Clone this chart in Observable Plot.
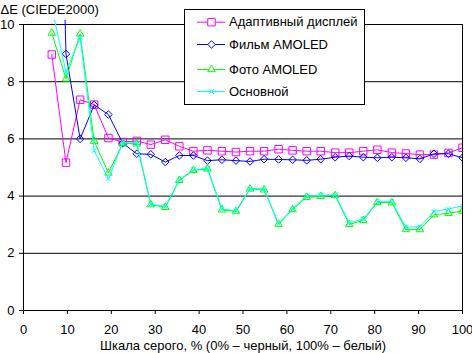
<!DOCTYPE html>
<html><head><meta charset="utf-8">
<script src="https://cdn.jsdelivr.net/npm/d3@7"></script>
<script src="https://cdn.jsdelivr.net/npm/@observablehq/plot@0.6"></script>
<style>
body{margin:0;background:#fff;}
#wrap{position:relative;width:472px;height:353px;font-family:"Liberation Sans",Arial,sans-serif;}
#legend{position:absolute;left:184px;top:9px;}
</style></head><body><div id="wrap"></div>
<script>
const gray = [6.45,9.68,12.9,16.1,19.35,22.6,25.8,29.0,32.3,35.5,38.7,41.9,45.2,48.4,51.6,54.8,58.1,61.3,64.5,67.7,71.0,74.2,77.4,80.6,83.9,87.1,90.3,93.5,96.8,100];
const adaptive = [8.95,5.17,7.37,7.2,6.03,5.89,5.93,5.8,5.97,5.74,5.57,5.6,5.57,5.54,5.57,5.57,5.64,5.6,5.57,5.57,5.52,5.52,5.57,5.62,5.52,5.49,5.45,5.45,5.51,5.69];
const film = [28,8.97,6.0,7.19,6.85,5.85,5.48,5.46,5.19,5.42,5.42,5.24,5.27,5.24,5.21,5.29,5.28,5.27,5.25,5.29,5.36,5.4,5.36,5.34,5.36,5.34,5.3,5.48,5.48,5.34];
const photo = [9.7,8.1,9.67,5.92,4.81,5.84,5.83,3.7,3.61,4.55,4.9,4.95,3.52,3.46,4.25,4.22,3.02,3.53,3.96,3.99,4.02,3.01,3.15,3.78,3.77,2.83,2.83,3.35,3.4,3.48];
const basic = [10.6,8.33,9.55,5.59,4.6,5.87,5.86,3.72,3.64,4.57,4.93,4.97,3.55,3.49,4.27,4.25,3.05,3.56,4.0,4.03,4.05,3.07,3.2,3.8,3.81,2.91,2.93,3.46,3.55,3.66];
const seriesNames = ["Адаптивный дисплей","Фильм AMOLED","Фото AMOLED","Основной"];
const seriesValues = [adaptive, film, photo, basic];
const colors = ["#ff00ff","#0000ff","#00ff00","#00ffff"];
const symbols = ["square","diamond2","triangle2","times"];
const radii = [4.2,3.4,3.6,2.2];
const yTicks = [0,2,4,6,8,10];
const gridY = [2,4,6,8,10];
const xTicks = [0,10,20,30,40,50,60,70,80,90,100];
const yTitle = "ΔE (CIEDE2000)";
const xTitle = "Шкала серого, % (0% – черный, 100% – белый)";
const font = '"Liberation Sans",Arial,sans-serif';

const marks = [
  Plot.ruleY(gridY, {stroke:"#000", strokeWidth:1}),
  Plot.ruleY([0], {stroke:"#000"}),
  Plot.ruleX([0,100], {y1:0, y2:10, stroke:"#000"}),
  Plot.axisX({ticks:xTicks, tickSize:4, tickPadding:10, label:null, fontSize:13, stroke:"#000", color:"#000"}),
  Plot.axisY({ticks:yTicks, tickSize:4, tickPadding:5, label:null, fontSize:13, stroke:"#000", color:"#000"})
];
seriesValues.forEach((vals, i) => {
  const rows = vals.map((v, j) => ({x: gray[j], y: v}));
  marks.push(Plot.line(rows, {x:"x", y:"y", stroke:colors[i], strokeWidth:1, clip:true}));
  marks.push(Plot.dot(rows, {x:"x", y:"y", symbol:symbols[i], r:radii[i], stroke:colors[i], fill:"none", strokeWidth:1, clip:true}));
});
marks.push(Plot.text([yTitle], {frameAnchor:"top-left", dx:-23, dy:-11, textAnchor:"start", lineAnchor:"middle", fontSize:13, fill:"#000", text:d=>d}));
marks.push(Plot.text([xTitle], {frameAnchor:"bottom", dy:35, lineAnchor:"middle", fontSize:13, fill:"#000", text:d=>d}));

const chart = Plot.plot({
  width:472, height:353,
  marginLeft:23, marginRight:10, marginTop:20, marginBottom:43,
  style:{fontFamily:font, fontSize:"13px", background:"#fff", color:"#000", overflow:"visible"},
  x:{domain:[0,100]},
  y:{domain:[0,10.14]},
  marks
});
const wrap = document.getElementById("wrap");
wrap.appendChild(chart);

// legend
const lw = 181, lh = 96;
const leg = d3.select(wrap).append("svg").attr("id","legend").attr("width",lw).attr("height",lh);
leg.append("rect").attr("x",0.5).attr("y",0.5).attr("width",lw-1).attr("height",lh-1).attr("fill","#fff").attr("stroke","#000");
const rowY = [12.7, 35, 60, 82];
const symMap = {square:d3.symbolSquare, diamond2:d3.symbolDiamond2, triangle2:d3.symbolTriangle2, times:d3.symbolTimes};
seriesNames.forEach((name, i) => {
  const g = leg.append("g").attr("transform", `translate(0,${rowY[i]})`);
  g.append("line").attr("x1",13).attr("x2",41).attr("y1",0.5).attr("y2",0.5).attr("stroke",colors[i]);
  g.append("path").attr("transform","translate(27.5,0.5)")
    .attr("d", d3.symbol(symMap[symbols[i]], radii[i]*radii[i]*Math.PI)())
    .attr("fill","#fff").attr("stroke",colors[i]);
  g.append("text").attr("x",45).attr("y",0).attr("dy","0.35em").attr("font-size",13).attr("font-family",font).attr("fill","#000").text(name);
});
</script></body></html>
